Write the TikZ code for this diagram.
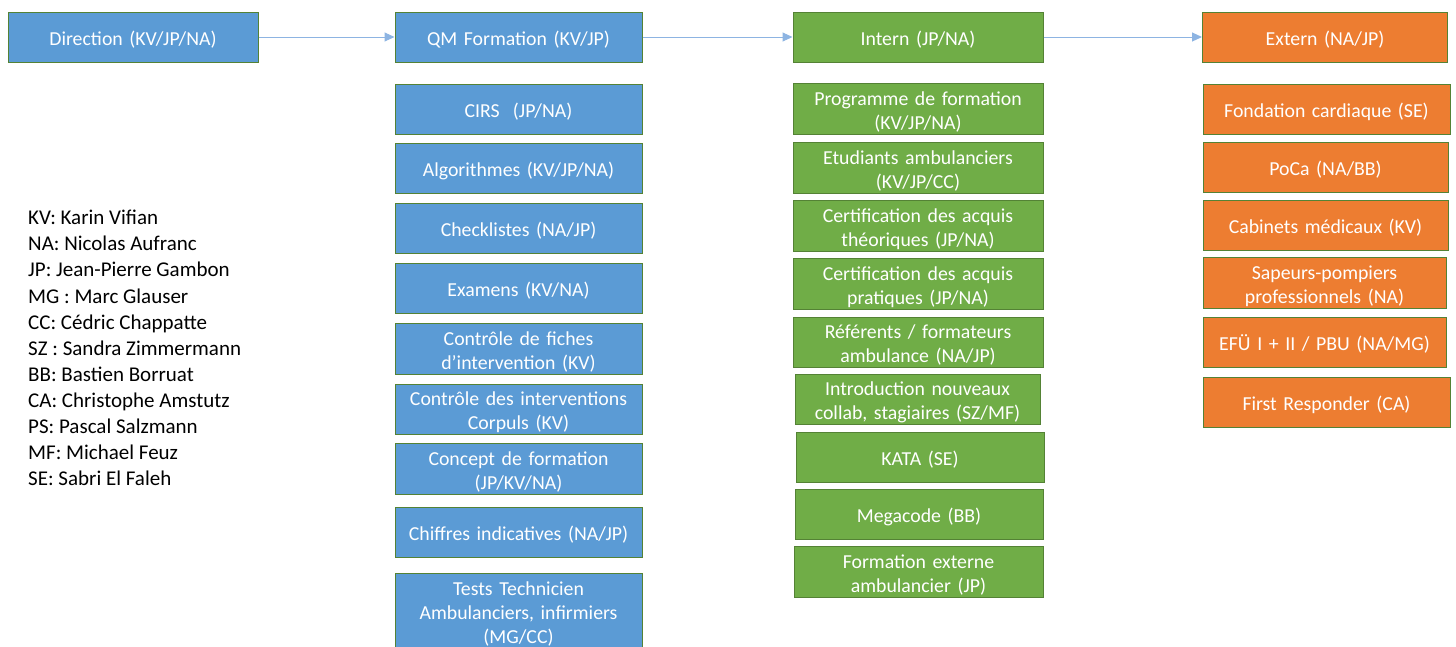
\documentclass[tikz,border=0pt]{standalone}
\usepackage{fontspec}
\setmainfont{Carlito}
\usepackage{tikz}
\usetikzlibrary{arrows.meta,calc}

\definecolor{boxblue}{HTML}{5B9BD5}
\definecolor{boxgreen}{HTML}{70AD47}
\definecolor{boxorange}{HTML}{ED7D31}
\definecolor{rim}{HTML}{548235}
\definecolor{flow}{HTML}{8DB4E2}

\begin{document}
\begin{tikzpicture}[x=1pt,y=-1pt,
    box/.style={draw=rim,line width=1pt,text=white,align=center,inner sep=2pt,
      minimum height=50pt,font=\fontsize{19.8}{24}\selectfont,
      execute at begin node={\rule{0pt}{19.5pt}}},
    bluebox/.style={box,fill=boxblue,minimum width=247pt,text width=240pt},
    greenbox/.style={box,fill=boxgreen,minimum width=250pt,text width=240pt},
    orangebox/.style={box,fill=boxorange,minimum width=245pt,text width=238pt},
    flowarrow/.style={draw=flow,line width=1pt,-{Triangle[length=10pt,width=9pt]}}]
    \useasboundingbox (0,0) rectangle (1456,646);
    \clip (0,0) rectangle (1456,646);

    % top row
    \node[bluebox,minimum width=250pt] (dir) at (133,37) {Direction (KV/JP/NA)};
    \node[bluebox] (qm) at (518.5,37) {QM Formation (KV/JP)};
    \node[greenbox] (intern) at (918,37) {Intern (JP/NA)};
    \node[orangebox] (extern) at (1325,37) {Extern (NA/JP)};

    \draw[flowarrow] (dir) -- (qm);
    \draw[flowarrow] (qm) -- (intern);
    \draw[flowarrow] (intern) -- (extern);

    % QM Formation
    \node[bluebox] (cirs) at (518.5,109) {CIRS\ \ (JP/NA)};
    \node[bluebox] (algo) at (518.5,168.5) {Algorithmes (KV/JP/NA)};
    \node[bluebox] (check) at (518.5,228.5) {Checklistes (NA/JP)};
    \node[bluebox] (exam) at (518.5,288.5) {Examens (KV/NA)};
    \node[bluebox] (fiches) at (518.5,349) {Contrôle de fiches\\d’intervention (KV)};
    \node[bluebox] (corpuls) at (518.5,409.5) {Contrôle des interventions\\Corpuls (KV)};
    \node[bluebox] (concept) at (518.5,469) {Concept de formation\\(JP/KV/NA)};
    \node[bluebox] (chiffres) at (518.5,532) {Chiffres indicatives (NA/JP)};
    \node[bluebox,minimum height=76pt] (tests) at (518.5,611) {Tests Technicien\\Ambulanciers, infirmiers\\(MG/CC)};

    % Intern
    \node[greenbox] (programme) at (918,109) {Programme de formation\\(KV/JP/NA)};
    \node[greenbox] (etudiants) at (918,168) {Etudiants ambulanciers\\(KV/JP/CC)};
    \node[greenbox] (theorie) at (918,226) {Certification des acquis\\théoriques (JP/NA)};
    \node[greenbox] (pratique) at (918,284) {Certification des acquis\\pratiques (JP/NA)};
    \node[greenbox] (referents) at (918,342.5) {Référents / formateurs\\ambulance (NA/JP)};
    \node[greenbox,minimum width=245pt] (intro) at (917.5,399.5) {Introduction nouveaux\\collab, stagiaires (SZ/MF)};
    \node[greenbox,minimum width=248pt] (kata) at (920,457) {KATA (SE)};
    \node[greenbox,minimum width=248pt] (megacode) at (919,514.5) {Megacode (BB)};
    \node[greenbox,minimum width=249pt] (externe) at (918.5,572) {Formation externe\\ambulancier (JP)};

    % Extern
    \node[orangebox,minimum width=247pt] (fondation) at (1326.5,109.5) {Fondation cardiaque (SE)};
    \node[orangebox] (poca) at (1325.5,167) {PoCa (NA/BB)};
    \node[orangebox] (cabinets) at (1325.5,225.5) {Cabinets médicaux (KV)};
    \node[orangebox,minimum width=243pt] (pompiers) at (1324.5,283) {Sapeurs-pompiers\\professionnels (NA)};
    \node[orangebox,minimum width=243pt] (efu) at (1324.5,342) {EFÜ I + II / PBU (NA/MG)};
    \node[orangebox,minimum width=247pt] (first) at (1326.5,402) {First Responder (CA)};

    % legende
    \node[anchor=north west,align=left,inner sep=0pt,font=\fontsize{21}{26.1}\selectfont] (legende) at (28,210) {KV: Karin Vifian\\NA: Nicolas Aufranc\\JP: Jean-Pierre Gambon\\MG : Marc Glauser\\CC: Cédric Chappatte\\SZ : Sandra Zimmermann\\BB: Bastien Borruat\\CA: Christophe Amstutz\\PS: Pascal Salzmann\\MF: Michael Feuz\\SE: Sabri El Faleh};

\end{tikzpicture}
\end{document}
